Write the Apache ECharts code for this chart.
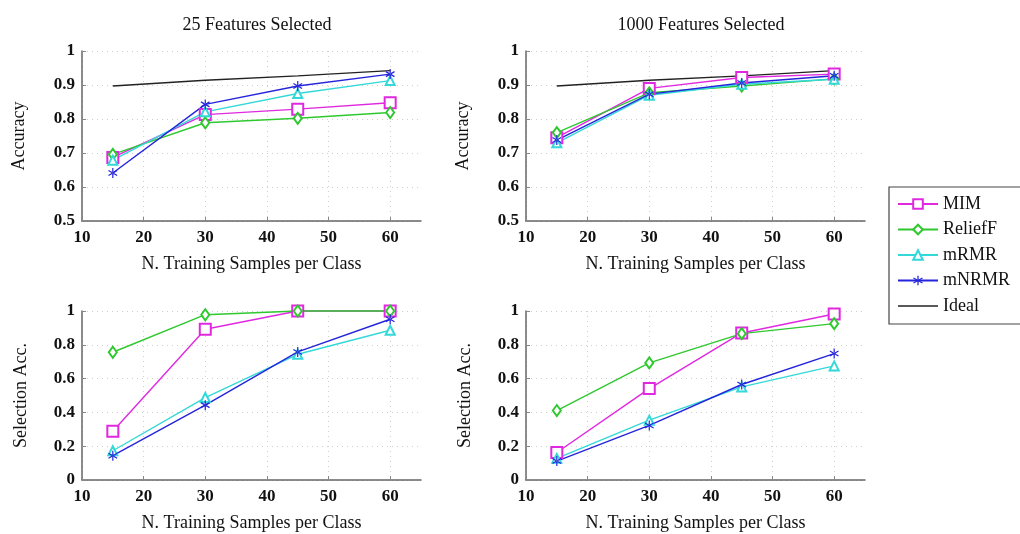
<!DOCTYPE html>
<html>
<head>
<meta charset="utf-8">
<script src="https://cdn.jsdelivr.net/npm/echarts@6/dist/echarts.min.js"></script>
<style>html,body{margin:0;padding:0;background:#fff;}#chart{width:1020px;height:534px;}</style>
</head>
<body>
<div id="chart"></div>
<script>
// ---- data ----
const xValues = [15, 30, 45, 60];
const xTicks = [10, 20, 30, 40, 50, 60];
const seriesNames = ['MIM', 'ReliefF', 'mRMR', 'mNRMR', 'Ideal'];
const titles = ['25 Features Selected', '1000 Features Selected'];
const xName = 'N. Training Samples per Class';
const yNameTop = 'Accuracy';
const yNameBottom = 'Selection Acc.';

const acc25_MIM = [0.687, 0.813, 0.829, 0.848];
const acc25_ReliefF = [0.696, 0.789, 0.802, 0.819];
const acc25_mRMR = [0.679, 0.821, 0.875, 0.913];
const acc25_mNRMR = [0.641, 0.843, 0.897, 0.932];
const acc25_Ideal = [0.897, 0.914, 0.927, 0.942];

const acc1000_MIM = [0.745, 0.890, 0.922, 0.932];
const acc1000_ReliefF = [0.760, 0.877, 0.897, 0.918];
const acc1000_mRMR = [0.730, 0.870, 0.902, 0.917];
const acc1000_mNRMR = [0.738, 0.873, 0.906, 0.927];
const acc1000_Ideal = [0.897, 0.914, 0.927, 0.942];

const sel25_MIM = [0.289, 0.892, 1.0, 1.0];
const sel25_ReliefF = [0.756, 0.978, 1.0, 1.0];
const sel25_mRMR = [0.173, 0.488, 0.744, 0.886];
const sel25_mNRMR = [0.144, 0.443, 0.758, 0.951];

const sel1000_MIM = [0.163, 0.541, 0.870, 0.982];
const sel1000_ReliefF = [0.411, 0.693, 0.866, 0.925];
const sel1000_mRMR = [0.128, 0.354, 0.551, 0.675];
const sel1000_mNRMR = [0.112, 0.323, 0.565, 0.748];

// ---- styles ----
const FONT = "'Liberation Serif', 'DejaVu Serif', serif";
const colors = {MIM: '#e028e0', ReliefF: '#2fc82f', mRMR: '#33d8d8', mNRMR: '#2424dc', Ideal: '#222222'};
const starPath = 'path://M-0.6,-5L0.6,-5L0.6,5L-0.6,5Z M4.03,3.02L4.63,1.98L-4.03,-3.02L-4.63,-1.98Z M4.63,-1.98L4.03,-3.02L-4.63,1.98L-4.03,3.02Z';
const symbols = {MIM: 'emptyRect', ReliefF: 'emptyDiamond', mRMR: 'emptyTriangle', mNRMR: starPath, Ideal: 'none'};
const symbolSizes = {MIM: 11, ReliefF: [8, 11], mRMR: 9, mNRMR: 10, Ideal: 0};

const grids = [
  {left: 82, top: 51, width: 339, height: 170},
  {left: 526, top: 51, width: 339, height: 170},
  {left: 82, top: 311, width: 339, height: 169},
  {left: 526, top: 311, width: 339, height: 169}
];

function makeX(i) {
  return {
    type: 'value', gridIndex: i, min: 10, max: 65, interval: 10,
    name: xName, nameLocation: 'middle', nameGap: 34,
    nameTextStyle: {fontFamily: FONT, fontSize: 18, color: '#111'},
    axisLine: {show: true, lineStyle: {color: '#666', width: 1.5}},
    axisTick: {show: true, inside: true, length: 4, lineStyle: {color: '#888'}, customValues: xTicks},
    axisLabel: {fontFamily: FONT, fontSize: 17, fontWeight: 'bold', color: '#111', margin: 8, customValues: xTicks},
    splitLine: {show: true, lineStyle: {color: '#cfcfcf', type: [1, 4], width: 1}}
  };
}
function makeY(i, top) {
  return {
    type: 'value', gridIndex: i,
    min: top ? 0.5 : 0, max: 1, interval: top ? 0.1 : 0.2,
    name: top ? yNameTop : yNameBottom, nameLocation: 'middle', nameGap: top ? 54 : 52,
    nameTextStyle: {fontFamily: FONT, fontSize: 18, color: '#111'},
    axisLine: {show: true, lineStyle: {color: '#666', width: 1.5}},
    axisTick: {show: true, inside: true, length: 4, lineStyle: {color: '#888'}},
    axisLabel: {fontFamily: FONT, fontSize: 17, fontWeight: 'bold', color: '#111', margin: 7,
      formatter: v => String(Math.round(v * 10) / 10)},
    splitLine: {show: true, lineStyle: {color: '#cfcfcf', type: [1, 4], width: 1}}
  };
}

function pairs(vals) { return xValues.map((x, k) => [x, vals[k]]); }
function mk(name, idx, vals) {
  return {
    name: name, type: 'line', xAxisIndex: idx, yAxisIndex: idx,
    data: pairs(vals), clip: false,
    symbol: symbols[name], symbolSize: symbolSizes[name], symbolKeepAspect: true,
    showSymbol: name !== 'Ideal',
    lineStyle: {color: colors[name], width: name === 'Ideal' ? 1.3 : 1.4},
    itemStyle: {color: colors[name], borderWidth: 1.3},
    emphasis: {disabled: true}, animation: false
  };
}

const series = [
  mk('MIM', 0, acc25_MIM), mk('ReliefF', 0, acc25_ReliefF), mk('mRMR', 0, acc25_mRMR), mk('mNRMR', 0, acc25_mNRMR), mk('Ideal', 0, acc25_Ideal),
  mk('MIM', 1, acc1000_MIM), mk('ReliefF', 1, acc1000_ReliefF), mk('mRMR', 1, acc1000_mRMR), mk('mNRMR', 1, acc1000_mNRMR), mk('Ideal', 1, acc1000_Ideal),
  mk('MIM', 2, sel25_MIM), mk('ReliefF', 2, sel25_ReliefF), mk('mRMR', 2, sel25_mRMR), mk('mNRMR', 2, sel25_mNRMR),
  mk('MIM', 3, sel1000_MIM), mk('ReliefF', 3, sel1000_ReliefF), mk('mRMR', 3, sel1000_mRMR), mk('mNRMR', 3, sel1000_mNRMR)
];

const legendData = seriesNames.map(n => n === 'Ideal'
  ? {name: n, icon: 'path://M0,0L40,0L40,1.3L0,1.3Z'}
  : {name: n});

const option = {
  backgroundColor: '#ffffff',
  animation: false,
  title: [
    {text: titles[0], left: 252, top: 11, textAlign: 'center', textStyle: {fontFamily: FONT, fontSize: 18, fontWeight: 'normal', color: '#111'}},
    {text: titles[1], left: 696, top: 11, textAlign: 'center', textStyle: {fontFamily: FONT, fontSize: 18, fontWeight: 'normal', color: '#111'}}
  ],
  grid: grids,
  xAxis: [makeX(0), makeX(1), makeX(2), makeX(3)],
  yAxis: [makeY(0, true), makeY(1, true), makeY(2, false), makeY(3, false)],
  legend: {
    data: legendData, orient: 'vertical', left: 889, top: 187,
    padding: [8, 60, 9, 8], itemGap: 7.5, itemWidth: 40, itemHeight: 12,
    borderColor: '#444', borderWidth: 1.2, backgroundColor: '#fff',
    textStyle: {fontFamily: FONT, fontSize: 18, color: '#111'},
    selectedMode: false
  },
  series: series
};

const chart = echarts.init(document.getElementById('chart'), null, {renderer: 'canvas'});
chart.setOption(option);
</script>
</body>
</html>
